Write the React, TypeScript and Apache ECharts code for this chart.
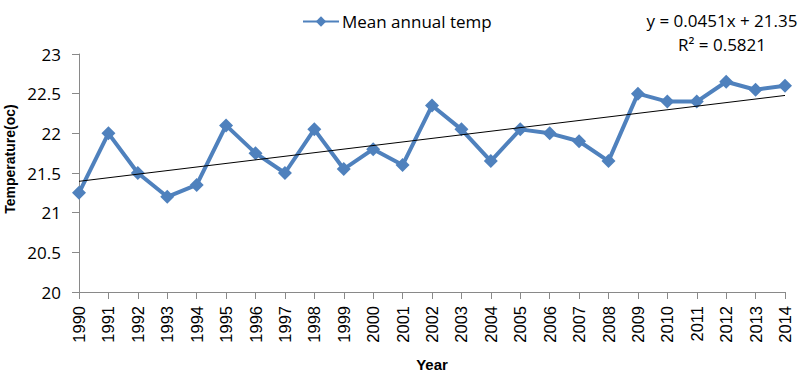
import React, { useEffect, useRef } from "react";
import * as echarts from "echarts";

const years = ["1990","1991","1992","1993","1994","1995","1996","1997","1998","1999","2000","2001","2002","2003","2004","2005","2006","2007","2008","2009","2010","2011","2012","2013","2014"];
const meanTemp = [21.25, 22.0, 21.5, 21.2, 21.35, 22.1, 21.75, 21.5, 22.05, 21.55, 21.8, 21.6, 22.35, 22.05, 21.65, 22.05, 22.0, 21.9, 21.65, 22.5, 22.4, 22.4, 22.65, 22.55, 22.6];
const trendSlope = 0.0451;
const trendIntercept = 21.35;
const trendLabel = "y = 0.0451x + 21.35";
const r2Label = "R² = 0.5821";

export default function App() {
  const ref = useRef<HTMLDivElement>(null);
  useEffect(() => {
    if (!ref.current) return;
    const chart = echarts.init(ref.current, null, { renderer: "svg" });
    const trend = [
      [years[0], trendIntercept + trendSlope * 1],
      [years[years.length - 1], trendIntercept + trendSlope * years.length],
    ];
    chart.setOption({
      animation: false,
      backgroundColor: "#ffffff",
      grid: { left: 79, right: 15, top: 54, bottom: 86 },
      legend: {
        data: ["Mean annual temp"],
        top: 8,
        left: 297,
        itemWidth: 36,
        itemHeight: 13,
        itemGap: 10,
        textStyle: { fontFamily: "Open Sans", fontSize: 17, color: "#000", padding: [0, 0, 0, -2] },
      },
      graphic: [
        { type: "text", x: 722, y: 20, style: { text: trendLabel, fontFamily: "Open Sans", fontSize: 17, fill: "#000", textAlign: "center", textVerticalAlign: "middle" } },
        { type: "text", x: 722, y: 44, style: { text: r2Label, fontFamily: "Open Sans", fontSize: 17, fill: "#000", textAlign: "center", textVerticalAlign: "middle" } },
        { type: "text", x: 10, y: 159, rotation: Math.PI / 2, style: { text: "Temperature(oc)", fontFamily: "Liberation Sans", fontWeight: "bold", fontSize: 14, fill: "#000", textAlign: "center", textVerticalAlign: "middle" } },
      ],
      xAxis: {
        type: "category",
        data: years,
        boundaryGap: false,
        name: "Year",
        nameLocation: "middle",
        nameGap: 65,
        nameTextStyle: { fontFamily: "Liberation Sans", fontWeight: "bold", fontSize: 15, color: "#000" },
        axisLine: { lineStyle: { color: "#898989", width: 1 } },
        axisTick: { show: true, alignWithLabel: true, length: 7, lineStyle: { color: "#898989" } },
        axisLabel: { rotate: 90, interval: 0, fontFamily: "Liberation Sans", fontSize: 16.5, color: "#000", margin: 14 },
        splitLine: { show: false },
      },
      yAxis: {
        type: "value",
        min: 20,
        max: 23,
        interval: 0.5,
        axisLine: { show: true, lineStyle: { color: "#898989", width: 1 } },
        axisTick: { show: true, length: 7, lineStyle: { color: "#898989" } },
        axisLabel: { fontFamily: "Open Sans", fontSize: 17, color: "#000", margin: 18 },
        splitLine: { show: false },
      },
      series: [
        {
          name: "Mean annual temp",
          type: "line",
          data: meanTemp,
          symbol: "diamond",
          symbolSize: 14,
          itemStyle: { color: "#4F81BD" },
          lineStyle: { color: "#4F81BD", width: 4 },
          z: 3,
        },
        {
          name: "trend",
          type: "line",
          data: trend,
          symbol: "none",
          lineStyle: { color: "#000", width: 1 },
          z: 4,
        },
      ],
    });
    return () => chart.dispose();
  }, []);
  return <div ref={ref} style={{ width: 800, height: 378, position: "absolute", left: 0, top: 0 }} />;
}
